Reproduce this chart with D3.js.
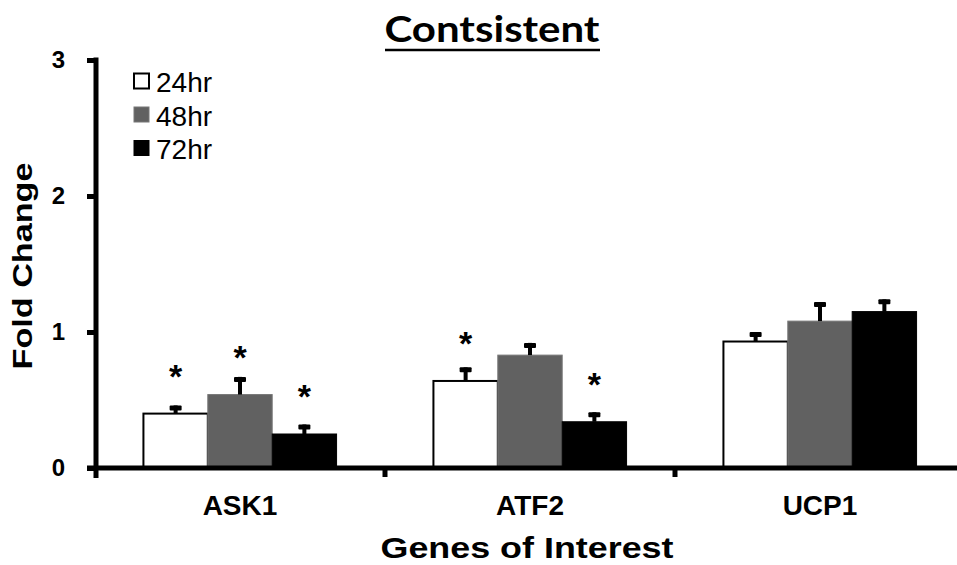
<!DOCTYPE html>
<html>
<head>
<meta charset="utf-8">
<script src="https://cdn.jsdelivr.net/npm/d3@7"></script>
<style>
  html, body { margin: 0; padding: 0; background: #fff; }
  svg { display: block; }
</style>
</head>
<body>
<svg id="chart" width="957" height="565"></svg>
<script>
// Gene expression fold change by time point
const genes = ["ASK1", "ATF2", "UCP1"];
const timePoints = ["24hr", "48hr", "72hr"];
const values24 = [0.40, 0.64, 0.93];
const values48 = [0.54, 0.83, 1.08];
const values72 = [0.25, 0.34, 1.15];
const errors24 = [0.06, 0.10, 0.07];
const errors48 = [0.13, 0.09, 0.14];
const errors72 = [0.07, 0.07, 0.09];
// significance markers per series (true = "*")
const signif24 = [true, true, false];
const signif48 = [true, false, false];
const signif72 = [true, true, false];
const yTicks = [0, 1, 2, 3];

const seriesValues = [values24, values48, values72];
const seriesErrors = [errors24, errors48, errors72];
const seriesSignif = [signif24, signif48, signif72];
const fills = ["#ffffff", "#616161", "#000000"];

const svg = d3.select("#chart");
const font = "'Liberation Sans', Arial, sans-serif";

const x0 = d3.scaleBand().domain(genes).range([95, 965]).paddingInner(0.334).paddingOuter(0.167);
const x1 = d3.scaleBand().domain(timePoints).range([0, x0.bandwidth()]);
const y = d3.scaleLinear().domain([0, 3]).range([468, 60]);

// Bars
const rows = [];
genes.forEach((g, gi) => {
  timePoints.forEach((t, ti) => {
    rows.push({ gene: g, time: t, ti, value: seriesValues[ti][gi], err: seriesErrors[ti][gi], sig: seriesSignif[ti][gi] });
  });
});

const gBars = svg.append("g");
gBars.selectAll("rect.bar").data(rows).join("rect")
  .attr("class", "bar")
  .attr("x", d => x0(d.gene) + x1(d.time))
  .attr("y", d => y(d.value))
  .attr("width", x1.bandwidth())
  .attr("height", d => y(0) - y(d.value))
  .attr("fill", d => fills[d.ti])
  .attr("stroke", d => d.ti === 1 ? "#777" : "#000")
  .attr("stroke-width", d => d.ti === 0 ? 2 : 1);

// Error bars (upper only, T-shaped)
const gErr = svg.append("g");
rows.forEach(d => {
  const cx = x0(d.gene) + x1(d.time) + x1.bandwidth() / 2;
  const top = y(d.value + d.err);
  gErr.append("rect")
    .attr("x", cx - 2).attr("y", top).attr("width", 4).attr("height", y(d.value) - top)
    .attr("fill", "#000");
  gErr.append("rect")
    .attr("x", cx - 6).attr("y", top).attr("width", 12).attr("height", 5)
    .attr("rx", 1).attr("fill", "#000");
});

// Significance asterisks
svg.append("g").selectAll("text").data(rows.filter(d => d.sig)).join("text")
  .attr("x", d => x0(d.gene) + x1(d.time) + x1.bandwidth() / 2)
  .attr("y", d => y(d.value) - 26)
  .attr("text-anchor", "middle")
  .attr("font-family", font)
  .attr("font-weight", "bold")
  .attr("font-size", 34)
  .attr("fill", "#000")
  .text("*");

// Y axis
const yAxis = svg.append("g").attr("transform", "translate(96,0)")
  .call(d3.axisLeft(y).tickValues(yTicks).tickFormat(d3.format("d")).tickSize(9).tickPadding(22));
yAxis.select(".domain").remove();
yAxis.selectAll(".tick line").attr("stroke", "#000").attr("stroke-width", 5);
yAxis.selectAll(".tick text").attr("font-family", font).attr("font-weight", "bold")
  .attr("font-size", 24).attr("fill", "#000").attr("text-anchor", "end");
svg.append("line").attr("x1", 96).attr("x2", 96).attr("y1", y(3) - 2.5).attr("y2", 478)
  .attr("stroke", "#000").attr("stroke-width", 5);

// X axis
svg.append("line").attr("x1", 87).attr("x2", 957).attr("y1", y(0)).attr("y2", y(0))
  .attr("stroke", "#000").attr("stroke-width", 5);
const boundaries = genes.slice(1).map(g => x0(g) - x0.step() * x0.paddingInner() / 2);
svg.append("g").selectAll("line").data(boundaries).join("line")
  .attr("x1", d => d).attr("x2", d => d).attr("y1", y(0)).attr("y2", 477)
  .attr("stroke", "#000").attr("stroke-width", 5);
svg.append("g").selectAll("text").data(genes).join("text")
  .attr("x", d => x0(d) + x0.bandwidth() / 2)
  .attr("y", 515)
  .attr("text-anchor", "middle")
  .attr("font-family", font).attr("font-weight", "bold").attr("font-size", 28)
  .attr("fill", "#000")
  .text(d => d);

// Axis titles
svg.append("text")
  .attr("x", 527).attr("y", 558)
  .attr("text-anchor", "middle")
  .attr("font-family", font).attr("font-weight", "bold").attr("font-size", 30)
  .attr("textLength", 293).attr("lengthAdjust", "spacingAndGlyphs")
  .attr("fill", "#000")
  .text("Genes of Interest");
svg.append("text")
  .attr("transform", "translate(32,266) rotate(-90)")
  .attr("text-anchor", "middle")
  .attr("font-family", font).attr("font-weight", "bold").attr("font-size", 28)
  .attr("textLength", 207).attr("lengthAdjust", "spacingAndGlyphs")
  .attr("fill", "#000")
  .text("Fold Change");

// Title
svg.append("text")
  .attr("x", 492).attr("y", 42)
  .attr("text-anchor", "middle")
  .attr("font-family", "Lato, 'Open Sans', sans-serif").attr("font-weight", "bold").attr("font-size", 36)
  .attr("textLength", 215).attr("lengthAdjust", "spacingAndGlyphs")
  .attr("fill", "#000")
  .text("Contsistent");
svg.append("line").attr("x1", 385).attr("x2", 600).attr("y1", 50).attr("y2", 50)
  .attr("stroke", "#000").attr("stroke-width", 2.5);

// Legend
const legend = svg.append("g");
timePoints.forEach((t, i) => {
  const cy = 81 + i * 33.5;
  legend.append("rect")
    .attr("x", 134).attr("y", cy - 7.5).attr("width", 15).attr("height", 15)
    .attr("fill", fills[i])
    .attr("stroke", i === 1 ? "#777" : "#000")
    .attr("stroke-width", i === 0 ? 2 : 1);
  legend.append("text")
    .attr("x", 156).attr("y", cy + 11)
    .attr("font-family", font).attr("font-size", 28).attr("fill", "#000")
    .text(t);
});
</script>
</body>
</html>
